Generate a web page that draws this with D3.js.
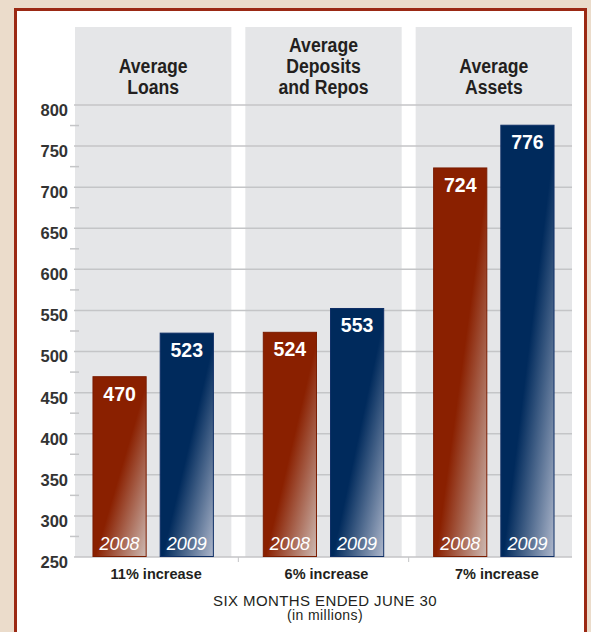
<!DOCTYPE html>
<html>
<head>
<meta charset="utf-8">
<script src="https://cdn.jsdelivr.net/npm/d3@7"></script>
<style>
  body { margin: 0; background: #ebdccb; }
  svg { display: block; }
</style>
</head>
<body>
<div id="chart"></div>
<script>
// chart data
const groups = ['loans', 'deposits', 'assets']
const groupTitles = [['Average', 'Loans'], ['Average', 'Deposits', 'and Repos'], ['Average', 'Assets']]
const years = ['2008', '2009']
const values2008 = [470, 524, 724]
const values2009 = [523, 553, 776]
const increases = ['11% increase', '6% increase', '7% increase']
const majorTicks = [250, 300, 350, 400, 450, 500, 550, 600, 650, 700, 750, 800]
const minorTicks = [275, 325, 375, 425, 475, 525, 575, 625, 675, 725, 775]

const width = 591, height = 632
const svg = d3.select('#chart').append('svg')
  .attr('width', width)
  .attr('height', height)

const colors = {
  '2008': { dark: '#8a2000', light: '#cdbab3', stroke: '#7a1c00' },
  '2009': { dark: '#002a5c', light: '#aeb7cb', stroke: '#0f2f66' }
}

// gradients: dark top-left, fading to light in the bottom-right corner
const defs = svg.append('defs')
years.forEach(yr => {
  let c = colors[yr]
  let lg = defs.append('linearGradient')
    .attr('id', `g${yr}`)
    .attr('x1', 0).attr('y1', 0)
    .attr('x2', 1).attr('y2', 1)
  lg.append('stop').attr('offset', 0).attr('stop-color', c.dark)
  lg.append('stop').attr('offset', 0.52).attr('stop-color', c.dark)
  lg.append('stop').attr('offset', 1).attr('stop-color', c.light)
})

// background card
svg.append('rect')
  .attr('width', width).attr('height', height)
  .attr('fill', '#ebdccb')
svg.append('rect')
  .attr('x', 15.5).attr('y', 9.5)
  .attr('width', 570).attr('height', 660)
  .attr('fill', '#fff')
  .attr('stroke', '#9b2914')
  .attr('stroke-width', 3)

const y = d3.scaleLinear().domain([250, 800]).range([557, 105])
const x = d3.scaleBand().domain(groups).range([75, 572]).paddingInner(0.082)
const xi = d3.scaleBand().domain(years).range([0, x.bandwidth()])
  .paddingInner(0.194).paddingOuter(0.26)

// grey panels
svg.append('g').selectAll('rect')
  .data(groups)
  .join('rect')
  .attr('x', d => x(d))
  .attr('y', 27)
  .attr('width', x.bandwidth())
  .attr('height', y(250) - 27)
  .attr('fill', '#e5e6e8')

// gridlines
svg.append('g').selectAll('line')
  .data(majorTicks)
  .join('line')
  .attr('x1', 74).attr('x2', 572)
  .attr('y1', d => y(d)).attr('y2', d => y(d))
  .attr('stroke', '#c4c5c7')
  .attr('stroke-width', 1.5)

// minor ticks
svg.append('g').selectAll('line')
  .data(minorTicks)
  .join('line')
  .attr('x1', 70).attr('x2', 79)
  .attr('y1', d => y(d)).attr('y2', d => y(d))
  .attr('stroke', '#c4c5c7')
  .attr('stroke-width', 1.5)

// small ticks between the panels
svg.append('g').selectAll('line')
  .data(groups.slice(1))
  .join('line')
  .attr('x1', d => x(d) - x.step() * x.paddingInner() / 2)
  .attr('x2', d => x(d) - x.step() * x.paddingInner() / 2)
  .attr('y1', y(250)).attr('y2', y(250) + 5)
  .attr('stroke', '#c4c5c7')
  .attr('stroke-width', 1)

// y axis labels
const yAxis = d3.axisLeft(y).tickValues(majorTicks).tickSize(0).tickPadding(0)
const axisG = svg.append('g')
  .attr('transform', 'translate(68,0)')
  .call(yAxis)
axisG.select('.domain').remove()
axisG.selectAll('text')
  .attr('dy', '0.75em')
  .attr('y', -2)
  .style('font-family', '"Liberation Sans", Arial, sans-serif')
  .style('font-size', '16.5px')
  .style('font-weight', 'bold')
  .attr('fill', '#333')

// group titles (condensed look via horizontal squeeze)
groups.forEach((g, i) => {
  let lines = groupTitles[i]
  let t = svg.append('text')
    .attr('transform', `translate(${x(g) + x.bandwidth() / 2},0) scale(0.86,1)`)
    .attr('text-anchor', 'middle')
    .style('font-family', '"Liberation Sans", Arial, sans-serif')
    .style('font-size', '20.5px')
    .style('font-weight', 'bold')
    .attr('fill', '#231f20')
  lines.forEach((l, j) => {
    t.append('tspan')
      .attr('x', 0)
      .attr('y', 94 - (lines.length - 1 - j) * 21)
      .text(l)
  })
})

// bars
const series = [values2008, values2009]
years.forEach((yr, k) => {
  let data = groups.map((g, i) => ({ group: g, value: series[k][i] }))
  let c = colors[yr]
  let bars = svg.append('g')

  bars.selectAll('rect')
    .data(data)
    .join('rect')
    .attr('x', d => x(d.group) + xi(yr) + 0.5)
    .attr('y', d => y(d.value) + 0.5)
    .attr('width', xi.bandwidth() - 1)
    .attr('height', d => y(250) - y(d.value) - 1)
    .attr('fill', `url(#g${yr})`)
    .attr('stroke', c.stroke)
    .attr('stroke-width', 1)

  bars.selectAll('text.val')
    .data(data)
    .join('text')
    .attr('class', 'val')
    .attr('x', d => x(d.group) + xi(yr) + xi.bandwidth() / 2)
    .attr('y', d => y(d.value) + 24.5)
    .attr('text-anchor', 'middle')
    .style('font-family', '"Liberation Sans", Arial, sans-serif')
    .style('font-size', '19.5px')
    .style('font-weight', 'bold')
    .attr('fill', '#fff')
    .text(d => d.value)

  bars.selectAll('text.yr')
    .data(data)
    .join('text')
    .attr('class', 'yr')
    .attr('x', d => x(d.group) + xi(yr) + xi.bandwidth() / 2)
    .attr('y', y(250) - 7)
    .attr('text-anchor', 'middle')
    .style('font-family', '"Liberation Sans", Arial, sans-serif')
    .style('font-size', '18px')
    .style('font-style', 'italic')
    .attr('fill', '#fff')
    .text(yr)
})

// increase labels
svg.append('g').selectAll('text')
  .data(groups)
  .join('text')
  .attr('x', d => x(d) + x.bandwidth() / 2 + 3)
  .attr('y', 579)
  .attr('text-anchor', 'middle')
  .style('font-family', '"Liberation Sans", Arial, sans-serif')
  .style('font-size', '14.5px')
  .style('font-weight', 'bold')
  .attr('fill', '#231f20')
  .text((d, i) => increases[i])

// footer
svg.append('text')
  .attr('x', 325).attr('y', 605.5)
  .attr('text-anchor', 'middle')
  .style('font-family', '"Liberation Sans", Arial, sans-serif')
  .style('font-size', '15px')
  .style('letter-spacing', '0.4px')
  .attr('fill', '#231f20')
  .text('SIX MONTHS ENDED JUNE 30')
svg.append('text')
  .attr('x', 325).attr('y', 620)
  .attr('text-anchor', 'middle')
  .style('font-family', '"Liberation Sans", Arial, sans-serif')
  .style('font-size', '14px')
  .style('letter-spacing', '0.4px')
  .attr('fill', '#231f20')
  .text('(in millions)')
</script>
</body>
</html>
